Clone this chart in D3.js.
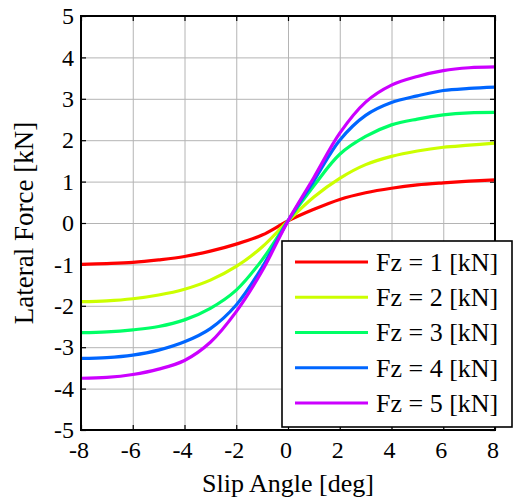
<!DOCTYPE html>
<html>
<head>
<meta charset="utf-8">
<script src="https://cdn.jsdelivr.net/npm/d3@7"></script>
<style>
  html, body { margin: 0; padding: 0; background: #fff; }
  svg { display: block; }
  svg text { font-family: "Liberation Serif", "DejaVu Serif", serif; }
</style>
</head>
<body>
<svg id="chart" width="518" height="501" font-family="Liberation Serif, DejaVu Serif, serif"></svg>
<script>
// Slip angle samples [deg]
const slipAngles = [-8, -7, -6, -5, -4, -3, -2, -1, 0, 1, 2, 3, 4, 5, 6, 7, 8];

// Lateral force [kN] for each vertical load
const fz1 = [-1.00, -0.98, -0.95, -0.89, -0.81, -0.68, -0.51, -0.29, 0.05, 0.33, 0.57, 0.73, 0.84, 0.92, 0.97, 1.01, 1.04];
const fz2 = [-1.90, -1.88, -1.83, -1.74, -1.60, -1.38, -1.05, -0.58, 0.05, 0.63, 1.08, 1.41, 1.61, 1.74, 1.83, 1.88, 1.93];
const fz3 = [-2.65, -2.63, -2.58, -2.50, -2.34, -2.06, -1.62, -0.89, 0.05, 0.90, 1.66, 2.09, 2.37, 2.51, 2.61, 2.66, 2.67];
const fz4 = [-3.27, -3.25, -3.19, -3.07, -2.87, -2.55, -1.98, -1.07, 0.05, 1.02, 2.00, 2.60, 2.91, 3.07, 3.20, 3.25, 3.28];
const fz5 = [-3.75, -3.73, -3.66, -3.53, -3.32, -2.88, -2.14, -1.16, 0.05, 1.10, 2.17, 2.92, 3.33, 3.54, 3.68, 3.75, 3.77];

const seriesNames = ["Fz = 1 [kN]", "Fz = 2 [kN]", "Fz = 3 [kN]", "Fz = 4 [kN]", "Fz = 5 [kN]"];
const seriesColors = ["#ff0000", "#ccff00", "#00ff66", "#0066ff", "#cc00ff"];
const seriesValues = [fz1, fz2, fz3, fz4, fz5];

const xTicks = [-8, -6, -4, -2, 0, 2, 4, 6, 8];
const yTicks = [-5, -4, -3, -2, -1, 0, 1, 2, 3, 4, 5];

const xLabel = "Slip Angle [deg]";
const yLabel = "Lateral Force [kN]";

const serif = "Liberation Serif, DejaVu Serif, serif";
const svg = d3.select("#chart");
const plotLeft = 81, plotRight = 495, plotTop = 16, plotBottom = 430;

const x = d3.scaleLinear().domain([-8, 8]).range([plotLeft, plotRight]);
const y = d3.scaleLinear().domain([-5, 5]).range([plotBottom, plotTop]);

// grid
const grid = svg.append("g").attr("class", "grid");
grid.append("g")
  .attr("transform", `translate(0,${plotBottom})`)
  .call(d3.axisBottom(x).tickValues(xTicks.slice(1, -1)).tickSize(-(plotBottom - plotTop)).tickFormat(""))
  .call(g => g.select(".domain").remove())
  .call(g => g.selectAll("line").attr("stroke", "#b4b4b4").attr("stroke-width", 1));
grid.append("g")
  .attr("transform", `translate(${plotLeft},0)`)
  .call(d3.axisLeft(y).tickValues(yTicks.slice(1, -1)).tickSize(-(plotRight - plotLeft)).tickFormat(""))
  .call(g => g.select(".domain").remove())
  .call(g => g.selectAll("line").attr("stroke", "#b4b4b4").attr("stroke-width", 1));

// inward tick marks on all four sides
const tickLen = 5;
const tickStyle = g => {
  g.select(".domain").remove();
  g.selectAll("line").attr("stroke", "#000").attr("stroke-width", 1.2);
};
svg.append("g").attr("transform", `translate(0,${plotBottom})`)
  .call(d3.axisBottom(x).tickValues(xTicks).tickSize(-tickLen).tickFormat("")).call(tickStyle);
svg.append("g").attr("transform", `translate(0,${plotTop})`)
  .call(d3.axisTop(x).tickValues(xTicks).tickSize(-tickLen).tickFormat("")).call(tickStyle);
svg.append("g").attr("transform", `translate(${plotLeft},0)`)
  .call(d3.axisLeft(y).tickValues(yTicks).tickSize(-tickLen).tickFormat("")).call(tickStyle);
svg.append("g").attr("transform", `translate(${plotRight},0)`)
  .call(d3.axisRight(y).tickValues(yTicks).tickSize(-tickLen).tickFormat("")).call(tickStyle);

// tick labels
svg.append("g").selectAll("text").data(xTicks).join("text")
  .attr("x", d => x(d) - 2)
  .attr("y", 458)
  .attr("text-anchor", "middle")
  .attr("font-family", serif)
  .attr("font-size", 24)
  .attr("fill", "#000")
  .text(d => String(d));
svg.append("g").selectAll("text").data(yTicks).join("text")
  .attr("x", 74)
  .attr("y", d => y(d))
  .attr("dy", "0.34em")
  .attr("text-anchor", "end")
  .attr("font-family", serif)
  .attr("font-size", 24)
  .attr("fill", "#000")
  .text(d => String(d));

// axis titles
svg.append("text")
  .attr("x", (plotLeft + plotRight) / 2)
  .attr("y", 492)
  .attr("text-anchor", "middle")
  .attr("font-family", serif)
  .attr("font-size", 26)
  .text(xLabel);
svg.append("text")
  .attr("transform", `translate(33,${(plotTop + plotBottom) / 2}) rotate(-90)`)
  .attr("text-anchor", "middle")
  .attr("font-family", serif)
  .attr("font-size", 27)
  .text(yLabel);

// curves
const line = d3.line()
  .x((d, i) => x(slipAngles[i]))
  .y(d => y(d))
  .curve(d3.curveCatmullRom.alpha(0.5));

svg.append("g").selectAll("path").data(seriesValues).join("path")
  .attr("d", d => line(d))
  .attr("fill", "none")
  .attr("stroke", (d, i) => seriesColors[i])
  .attr("stroke-width", 3.2)
  .attr("stroke-linejoin", "round");

// plot frame
svg.append("rect")
  .attr("x", plotLeft).attr("y", plotTop)
  .attr("width", plotRight - plotLeft).attr("height", plotBottom - plotTop)
  .attr("fill", "none").attr("stroke", "#000").attr("stroke-width", 2);

// legend
const legend = svg.append("g");
legend.append("rect")
  .attr("x", 282).attr("y", 241)
  .attr("width", 230).attr("height", 186)
  .attr("fill", "#fff").attr("stroke", "#000").attr("stroke-width", 1.6);
const rowY = d3.scalePoint().domain(d3.range(seriesNames.length)).range([262, 403]);
const rows = legend.selectAll("g.row").data(seriesNames).join("g")
  .attr("class", "row")
  .attr("transform", (d, i) => `translate(0,${rowY(i)})`);
rows.append("line")
  .attr("x1", 295).attr("x2", 368)
  .attr("stroke", (d, i) => seriesColors[i])
  .attr("stroke-width", 3.2);
rows.append("text")
  .attr("x", 376)
  .attr("dy", "0.34em")
  .attr("font-family", serif)
  .attr("font-size", 26)
  .attr("fill", "#000")
  .text(d => d);
</script>
</body>
</html>
